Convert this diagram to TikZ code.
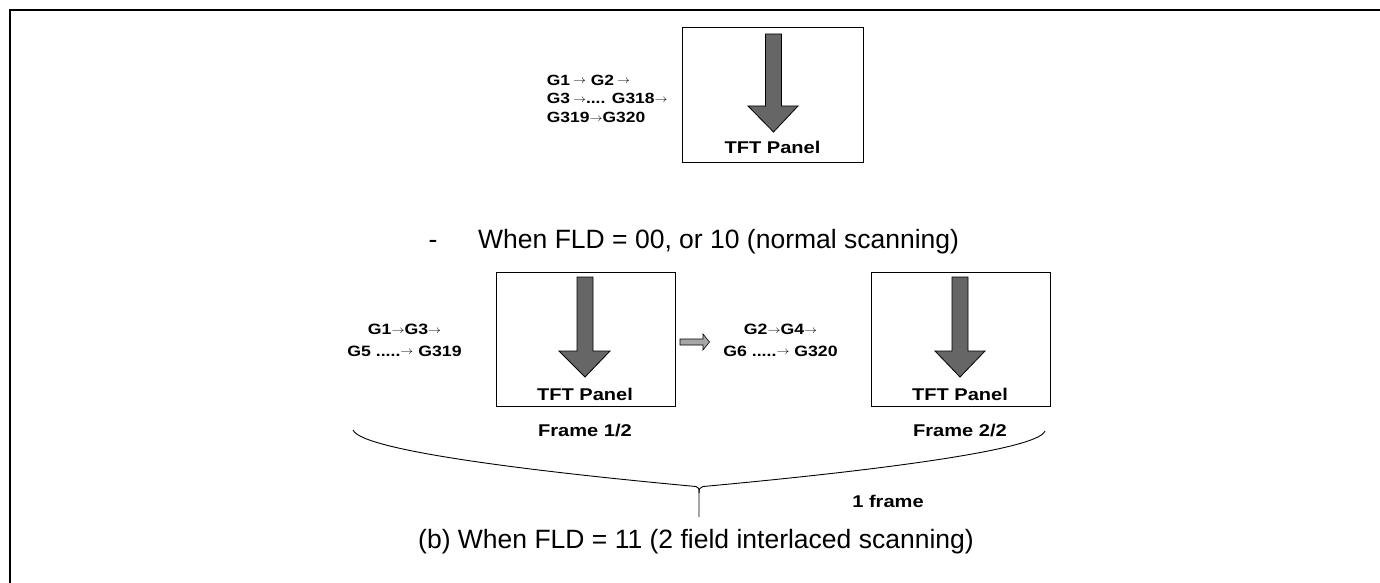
\documentclass[tikz,border=0pt]{standalone}
\usepackage{fontspec}
\setmainfont{Liberation Sans}
\newcommand\wx[1]{\scalebox{1.18}[1]{#1}}
\newcommand\ar{\raisebox{1.2pt}{\fontsize{11}{11}\selectfont$\rightarrow$}}
\begin{document}
\begin{tikzpicture}[x=1pt,y=-1pt,
  panel/.style={draw=black,line width=1.3pt},
  bigarrow/.style={draw=black,line width=0.8pt,fill=black!60},
  smallarrow/.style={draw=black,line width=0.6pt,fill=black!35},
  blab/.style={inner sep=0pt,font=\bfseries\fontsize{17}{20}\selectfont},
  glab/.style={inner sep=0pt,font=\bfseries\fontsize{15}{21.7}\selectfont},
  gtop/.style={inner sep=0pt,font=\bfseries\fontsize{14.8}{18.7}\selectfont},
  rlab/.style={inner sep=0pt,font=\fontsize{26.5}{30}\selectfont},
  brace/.style={draw=black,line width=0.9pt}]
\useasboundingbox (0,0) rectangle (1380,583);
% outer frame (top and left)
\draw[line width=2pt] (1380,10) -- (10,10) -- (10,583);

% ---- top: normal scanning
\node[panel,minimum width=181pt,minimum height=135pt,anchor=north west,inner sep=0pt] (p0) at (682,27) {};
\draw[bigarrow] (765.5,34) -- (781.5,34) -- (781.5,106) -- (798,106) -- (773.5,132) -- (748,106) -- (765.5,106) -- cycle;
\node[blab] (t0) at (772.5,147.7) {\wx{TFT Panel}};
\node[gtop,anchor=west] (g0) at (546.7,100) {\wx{\begin{tabular}{@{}l@{}}G1\,\ar\ G2\,\ar\\ G3\,\ar.... G318\ar\\ G319\ar G320\end{tabular}}};

\node[rlab,anchor=west] (cap1) at (478,241.7) {When FLD = 00, or 10 (normal scanning)};
\node[rlab,anchor=base] (dash) at (433,0 |- cap1.base) {-};

% ---- interlaced scanning
\node[panel,minimum width=179pt,minimum height=134pt,anchor=north west,inner sep=0pt] (p1) at (496,272) {};
\draw[bigarrow] (577,277) -- (593,277) -- (593,351) -- (610,351) -- (585,377) -- (559,351) -- (577,351) -- cycle;
\node[blab] (t1) at (585,394) {\wx{TFT Panel}};
\node[blab] (f1) at (585,431) {\wx{Frame 1/2}};
\node[glab] (g1) at (404.5,341) {\wx{\begin{tabular}{@{}c@{}}G1\ar G3\ar\\ G5 .....\ar\ G319\end{tabular}}};

\node[panel,minimum width=179pt,minimum height=134pt,anchor=north west,inner sep=0pt] (p2) at (871,272) {};
\draw[bigarrow] (952,277) -- (968,277) -- (968,351) -- (985,351) -- (960,377) -- (935,351) -- (952,351) -- cycle;
\node[blab] (t2) at (960,394) {\wx{TFT Panel}};
\node[blab] (f2) at (960,431) {\wx{Frame 2/2}};
\node[glab] (g2) at (780.5,341) {\wx{\begin{tabular}{@{}c@{}}G2\ar G4\ar\\ G6 .....\ar\ G320\end{tabular}}};

\draw[smallarrow] (680,339) -- (703,339) -- (703,334) -- (709.5,342) -- (703,350) -- (703,345) -- (680,345) -- cycle;

% brace
\coordinate (bl) at (353,430);
\coordinate (br) at (1045,431);
\coordinate (bt) at (699,517);
\draw[brace] (bl) .. controls (362,452) and (560,474) .. (696,486.5) .. controls (699,487) and (699,489) .. (699,493) -- (bt);
\draw[brace] (699,493) .. controls (699,489) and (700,487) .. (703,486.5) .. controls (840,474) and (1037,452) .. (br);

\node[blab] (one) at (888,501.7) {\wx{1 frame}};
\node[rlab] (cap2) at (696,541.7) {(b) When FLD = 11 (2 field interlaced scanning)};
\end{tikzpicture}
\end{document}
